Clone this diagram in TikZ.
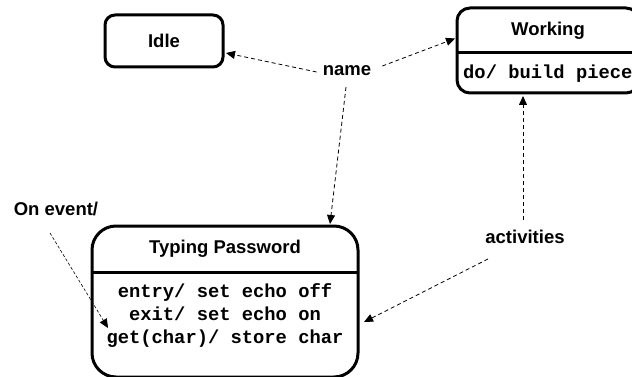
\documentclass[tikz,border=0pt]{standalone}
\usepackage{fontspec}
\newfontfamily\lsans{Liberation Sans}
\newfontfamily\lmono{Liberation Mono}
\usetikzlibrary{arrows.meta,calc}
\begin{document}
\begin{tikzpicture}[x=1pt,y=-1pt,
  state/.style={draw, line width=3pt, rounded corners=#1, inner sep=0pt, outer sep=0pt},
  state/.default=10pt,
  lbl/.style={font=\lsans\bfseries\fontsize{18.5}{22}\selectfont, inner sep=0pt},
  code/.style={font=\lmono\bfseries\fontsize{18.8}{23}\selectfont, inner sep=0pt},
  divider/.style={line width=3pt},
  callout/.style={-{Triangle[length=9pt,width=8pt]}, line width=0.8pt, dash pattern=on 4pt off 3pt},
  finecallout/.style={callout, line width=0.6pt, dash pattern=on 3pt off 2pt}]
\useasboundingbox (0,0) rectangle (632,377);
\clip (0,0) rectangle (632,377);

% Idle
\node[state=10pt, minimum width=118pt, minimum height=52pt, lbl] (idle) at (164,41) {Idle};

% Working
\node[state=13pt, minimum width=182pt, minimum height=85pt] (working) at (548,50.5) {};
\draw[divider] ($(working.west)+(0,2.5)$) -- ($(working.east)+(0,2.5)$);
\node[lbl, anchor=base] (wtitle) at (548,36) {Working};
\node[code, anchor=base west] (wdo) at (463,79) {do/ build piece};

% Typing Password
\node[state=24pt, minimum width=266pt, minimum height=151pt] (typing) at (225,301.5) {};
\draw[divider] ($(typing.west)+(0,-29.5)$) -- ($(typing.east)+(0,-29.5)$);
\node[lbl, anchor=base] (ttitle) at (225,253) {Typing Password};
\node[code, anchor=base] (l1) at (225,297) {entry/ set echo off};
\node[code, anchor=base] (l2) at (225,320) {exit/ set echo on};
\node[code, anchor=base] (l3) at (225,343) {get(char)/ store char};

% labels
\node[lbl, anchor=base] (name) at (347,76) {name};
\node[lbl, anchor=base] (act) at (525,243) {activities};
\node[lbl, anchor=base] (onev) at (56,215) {On event/};

% callouts
\draw[callout] ($(name.base west)+(-6,-4)$) -- ($(idle.east)+(3,12)$);
\draw[callout] ($(name.base east)+(11,-10)$) -- ($(working.west)+(-2,-12)$);
\draw[callout] ($(name.base)+(-1,11)$) -- ($(typing.north)+(105,-2)$);
\draw[callout] ($(act.base)+(-2,-23)$) -- ($(working.south)+(-25,3)$);
\draw[callout] ($(act.base)+(-37,16)$) -- ($(typing.east)+(6,20.5)$);
\draw[finecallout] ($(onev.base)+(-6,18)$) -- ($(typing.west)+(16,26.5)$);
\end{tikzpicture}
\end{document}
